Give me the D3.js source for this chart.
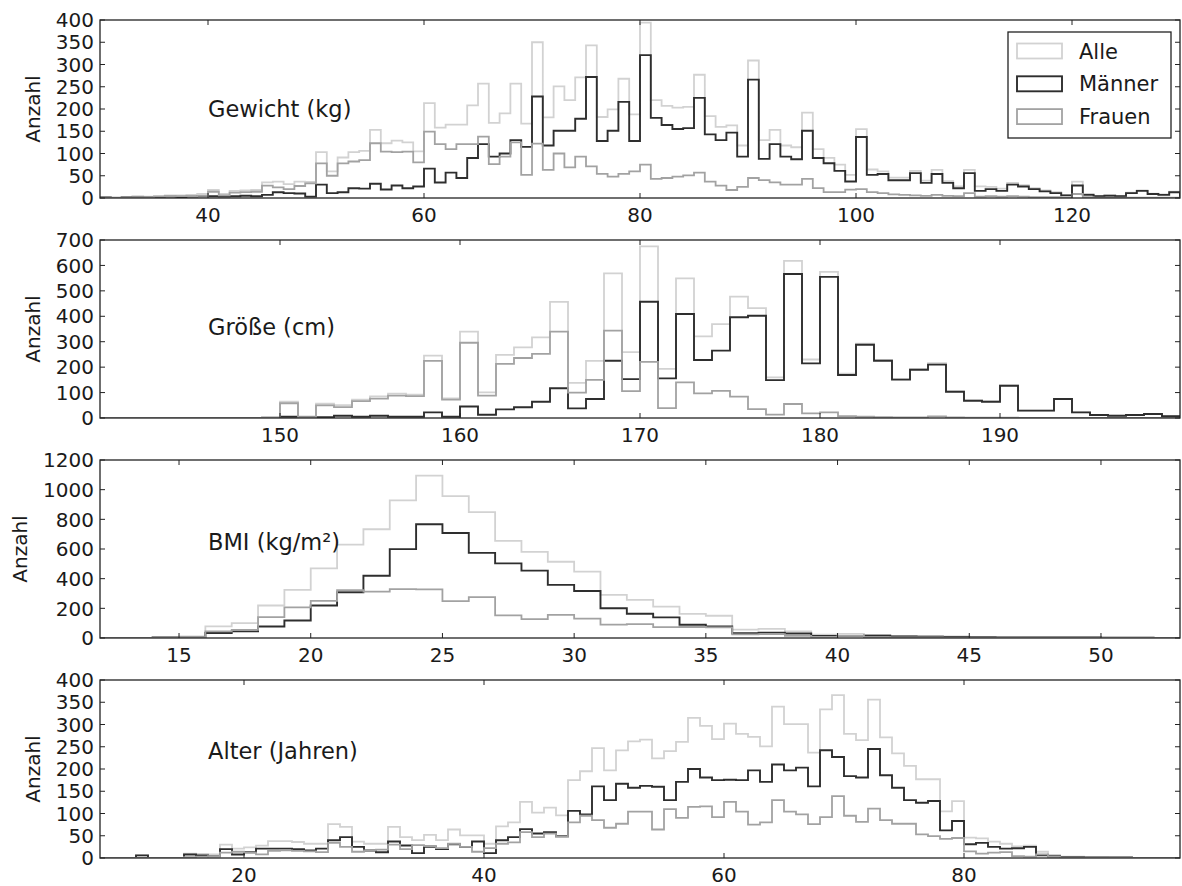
<!DOCTYPE html>
<html>
<head>
<meta charset="utf-8">
<script src="https://cdn.jsdelivr.net/npm/d3@7"></script>
<style>
  body { margin: 0; background: #fff; }
  svg { display: block; font-family: "DejaVu Sans", sans-serif; }
</style>
</head>
<body>
<svg id="chart" width="1182" height="886"></svg>
<script>
// Histogramme (Bins zu je 1 Einheit)
const seriesNames = ["Alle", "Männer", "Frauen"];

// Gewicht (kg), Bins ab 30
const gewichtStart = 30;
const gewichtAlle = [2,1,2,4,3,5,6,6,7,9, 18,9,16,17,18,35,37,31,37,36,
  103,60,91,103,106,153,123,129,125,105, 213,158,165,165,208,257,169,190,257,167,
  350,181,251,220,271,343,182,199,268,188, 394,220,207,203,205,277,184,160,163,118,
  309,130,153,118,114,192,110,90,75,52, 155,64,60,46,46,61,39,63,38,26,
  63,26,25,21,34,29,22,17,13,7, 37,9,5,6,5,12,17,10,8,14];
const gewichtMaenner = [1,0,1,2,1,2,3,2,3,4, 4,3,4,5,4,7,13,11,10,3,
  30,11,13,22,21,32,19,28,22,26, 66,35,57,45,90,121,93,100,130,115,
  228,118,151,151,178,272,128,151,216,128, 321,180,164,155,157,225,143,130,147,93,
  266,88,121,93,87,151,90,78,61,37, 137,52,54,40,40,56,34,54,34,22,
  56,16,20,16,30,26,20,15,11,6, 28,7,4,5,4,11,16,9,7,13];
const gewichtFrauen = [1,1,1,2,2,3,3,4,4,5, 14,6,12,13,14,28,24,20,27,33,
  78,50,78,82,85,123,104,103,104,80, 149,121,110,121,121,138,76,93,125,52,
  122,63,100,69,93,71,54,48,54,60, 75,43,45,48,51,57,37,28,18,25,
  45,40,35,30,30,43,22,13,13,19, 20,13,11,8,7,6,5,7,5,4,
  11,3,4,3,4,3,2,2,2,1, 9,2,1,1,1,1,1,1,1,1];

// Größe (cm), Bins ab 140
const groesseStart = 140;
const groesseAlle = [0,0,0,0,0,0,0,0,0,2,
  64,6,56,51,72,85,96,92,245,77, 340,101,248,278,317,457,138,225,569,259,
  675,193,549,321,369,477,432,160,618,230, 575,174,292,228,153,192,216,105,69,65,
  128,29,29,75,22,12,9,12,16,7];
const groesseMaenner = [0,0,0,0,0,0,0,0,0,0,
  5,3,3,9,5,9,5,5,22,5, 45,13,34,42,64,117,38,75,225,153,
  457,156,409,228,265,396,402,149,566,215, 555,169,288,225,151,190,210,103,68,64,
  127,29,29,75,22,12,9,12,16,7];
const groesseFrauen = [0,0,0,0,0,0,0,0,0,2,
  58,3,50,43,66,76,88,86,225,72, 296,88,213,236,252,340,100,150,344,106,
  221,39,140,97,107,84,35,13,55,18, 22,7,5,3,2,2,6,2,1,1,
  1,0,0,0,0,0,0,0,0,0];

// BMI (kg/m²), Bins ab 12
const bmiStart = 12;
const bmiAlle = [0,0,7,10,78,100,219,324,469,630, 733,928,1095,957,849,655,581,514,447,291,
  257,212,163,150,56,62,45,22,28,21, 14,12,10,8,6,4,4,4,3,2,1];
const bmiMaenner = [0,0,3,4,34,45,78,118,219,308, 420,599,767,708,574,503,454,358,317,201,
  163,139,89,78,32,36,30,14,14,15, 10,8,7,5,4,3,3,3,2,2,1];
const bmiFrauen = [0,0,4,6,44,55,141,206,250,322, 313,329,328,249,275,152,127,156,130,90,
  94,73,74,72,24,26,15,8,14,6, 4,4,3,3,2,1,1,1,1,0,0];

// Alter (Jahren), Bins ab 8
const alterStart = 8;
const alterAlle = [0,0,0,6,0,0,0,10,9,8, 30,21,24,28,38,38,36,32,32,76,
  70,37,32,32,70,47,40,52,40,64, 51,51,32,71,80,126,102,113,96,175,
  195,247,197,242,262,266,224,240,261,315, 297,267,302,279,272,251,340,301,301,237,
  334,366,279,265,356,271,235,207,177,177, 105,128,46,44,37,32,26,28,14,7,
  3,3,2,2,1,1,0,0,0,0];
const alterMaenner = [0,0,0,6,0,0,0,8,6,4, 20,8,13,21,21,21,20,17,21,40,
  47,25,17,13,37,28,11,25,20,31, 25,37,11,40,47,65,55,58,49,106,
  98,161,130,167,158,162,160,130,171,200, 181,175,176,175,197,171,210,197,203,161,
  242,227,184,181,245,186,158,130,124,128, 62,83,31,34,25,21,22,25,6,4,
  2,2,1,1,1,1,0,0,0,0];
const alterFrauen = [0,0,0,0,0,0,0,2,3,4, 12,14,12,8,16,17,16,15,13,34,
  25,14,17,19,30,20,29,27,22,32, 25,14,22,32,35,58,47,55,48,80,
  95,85,68,77,104,104,64,110,90,115, 116,92,126,104,75,80,130,104,98,76,
  92,139,95,81,111,85,77,77,53,49, 43,45,15,10,12,13,4,3,8,3,
  1,1,1,1,0,0,0,0,0,0];

// Achsen: Bereiche und Ticks
const gewichtXTicks = [40, 60, 80, 100, 120];
const gewichtYTicks = [0, 50, 100, 150, 200, 250, 300, 350, 400];
const groesseXTicks = [150, 160, 170, 180, 190];
const groesseYTicks = [0, 100, 200, 300, 400, 500, 600, 700];
const bmiXTicks = [15, 20, 25, 30, 35, 40, 45, 50];
const bmiYTicks = [0, 200, 400, 600, 800, 1000, 1200];
const alterXTicks = [20, 40, 60, 80];
const alterYTicks = [0, 50, 100, 150, 200, 250, 300, 350, 400];

const panels = [
  { title: "Gewicht (kg)", start: gewichtStart, xDomain: [30, 130], yMax: 400, textY: 200,
    xTicks: gewichtXTicks, yTicks: gewichtYTicks, data: [gewichtAlle, gewichtMaenner, gewichtFrauen] },
  { title: "Größe (cm)", start: groesseStart, xDomain: [140, 200], yMax: 700, textY: 360,
    xTicks: groesseXTicks, yTicks: groesseYTicks, data: [groesseAlle, groesseMaenner, groesseFrauen] },
  { title: "BMI (kg/m²)", start: bmiStart, xDomain: [12, 53], yMax: 1200, textY: 650,
    xTicks: bmiXTicks, yTicks: bmiYTicks, data: [bmiAlle, bmiMaenner, bmiFrauen] },
  { title: "Alter (Jahren)", start: alterStart, xDomain: [8, 98], yMax: 400, textY: 240,
    xTicks: alterXTicks, yTicks: alterYTicks, data: [alterAlle, alterMaenner, alterFrauen] }
];

const colors = ["#d2d2d2", "#2e2e2e", "#a2a2a2"];
const widths = [1.8, 1.9, 1.8];

const svg = d3.select("#chart");
const left = 100;
const right = 1180;
const panelH = 178;
const panelTops = [20, 240, 460, 680];
const fontSize = 20;
const titleSize = 22.5;
const tickLen = 5;

panels.forEach((p, pi) => {
  const top = panelTops[pi];
  const x = d3.scaleLinear().domain(p.xDomain).range([left, right]);
  const y = d3.scaleLinear().domain([0, p.yMax]).range([top + panelH, top]);

  const g = svg.append("g");

  g.append("clipPath")
    .attr("id", "clip" + pi)
    .append("rect")
    .attr("x", left)
    .attr("y", top)
    .attr("width", right - left)
    .attr("height", panelH);

  const line = d3
    .line()
    .x((d) => x(d[0]))
    .y((d) => y(d[1]))
    .curve(d3.curveStepAfter);

  p.data.forEach((vals, si) => {
    const pts = [[p.start, 0]];
    vals.forEach((v, i) => pts.push([p.start + i, v]));
    pts.push([p.start + vals.length, vals[vals.length - 1]]);
    pts.push([p.start + vals.length, 0]);
    g.append("path")
      .attr("clip-path", `url(#clip${pi})`)
      .attr("d", line(pts))
      .attr("fill", "none")
      .attr("stroke", colors[si])
      .attr("stroke-width", widths[si])
      .attr("stroke-linejoin", "miter");
  });

  // Rahmen
  g.append("rect")
    .attr("x", left)
    .attr("y", top)
    .attr("width", right - left)
    .attr("height", panelH)
    .attr("fill", "none")
    .attr("stroke", "#222")
    .attr("stroke-width", 1.3);

  // x-Ticks (innen, oben und unten)
  p.xTicks.forEach((t) => {
    g.append("line")
      .attr("x1", x(t)).attr("x2", x(t))
      .attr("y1", top + panelH).attr("y2", top + panelH - tickLen)
      .attr("stroke", "#222");
    g.append("line")
      .attr("x1", x(t)).attr("x2", x(t))
      .attr("y1", top).attr("y2", top + tickLen)
      .attr("stroke", "#222");
    g.append("text")
      .attr("x", x(t))
      .attr("y", top + panelH + 24)
      .attr("text-anchor", "middle")
      .attr("font-size", fontSize)
      .attr("fill", "#1a1a1a")
      .text(t);
  });

  // y-Ticks (innen, links und rechts)
  let maxW = 0;
  p.yTicks.forEach((t) => {
    g.append("line")
      .attr("x1", left).attr("x2", left + tickLen)
      .attr("y1", y(t)).attr("y2", y(t))
      .attr("stroke", "#222");
    g.append("line")
      .attr("x1", right).attr("x2", right - tickLen)
      .attr("y1", y(t)).attr("y2", y(t))
      .attr("stroke", "#222");
    const lbl = g.append("text")
      .attr("x", left - 6)
      .attr("y", y(t))
      .attr("dy", "0.36em")
      .attr("text-anchor", "end")
      .attr("font-size", fontSize)
      .attr("fill", "#1a1a1a")
      .text(t);
    maxW = Math.max(maxW, lbl.node().getComputedTextLength());
  });

  const labelX = left - 6 - maxW - 23;
  const labelY = top + panelH / 2;
  g.append("text")
    .attr("transform", `translate(${labelX},${labelY}) rotate(-90)`)
    .attr("dy", "0.36em")
    .attr("text-anchor", "middle")
    .attr("font-size", fontSize)
    .attr("fill", "#1a1a1a")
    .text("Anzahl");

  g.append("text")
    .attr("x", left + 0.1 * (right - left))
    .attr("y", y(p.textY))
    .attr("dy", "0.36em")
    .attr("font-size", titleSize)
    .attr("fill", "#1a1a1a")
    .text(p.title);
});

// Legende im ersten Panel
const legend = svg.append("g");
legend.append("rect")
  .attr("x", 1008)
  .attr("y", 32)
  .attr("width", 163)
  .attr("height", 106)
  .attr("fill", "#fff")
  .attr("stroke", "#222")
  .attr("stroke-width", 1.3);

seriesNames.forEach((name, i) => {
  const cy = 51 + i * 32.8;
  legend.append("rect")
    .attr("x", 1017)
    .attr("y", cy - 7.5)
    .attr("width", 45)
    .attr("height", 15)
    .attr("fill", "none")
    .attr("stroke", colors[i])
    .attr("stroke-width", widths[i]);
  legend.append("text")
    .attr("x", 1079)
    .attr("y", cy)
    .attr("dy", "0.36em")
    .attr("font-size", fontSize + 1)
    .attr("fill", "#1a1a1a")
    .text(name);
});
</script>
</body>
</html>
